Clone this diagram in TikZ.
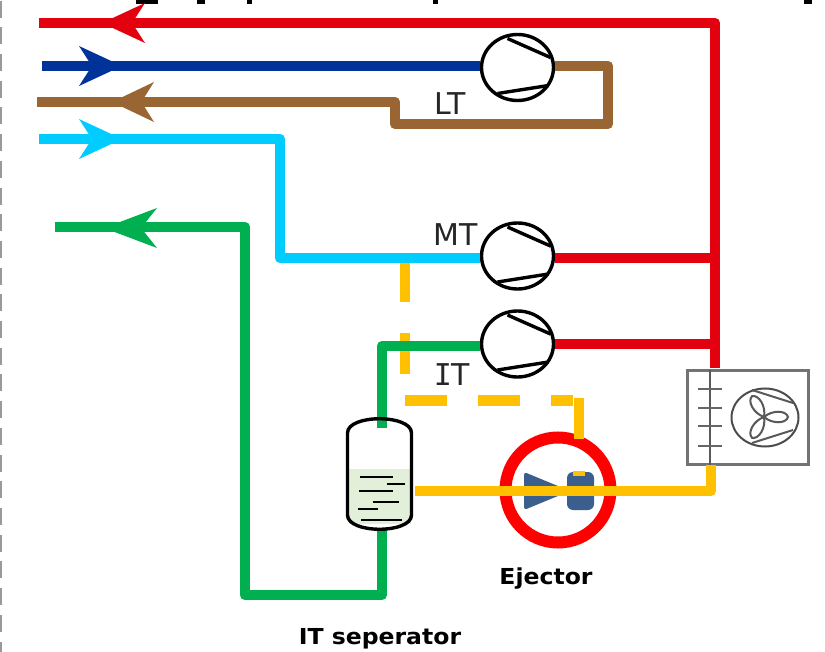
\documentclass[tikz,border=0pt]{standalone}
\usepackage{fontspec}
\setmainfont{DejaVu Sans}
\newfontfamily\serifletter{DejaVu Sans Mono}
\usetikzlibrary{positioning,shapes.geometric}
\definecolor{redline}{HTML}{E3000F}
\definecolor{blueline}{HTML}{003399}
\definecolor{brownline}{HTML}{996633}
\definecolor{cyanline}{HTML}{00CCFF}
\definecolor{greenline}{HTML}{00B050}
\definecolor{yellowline}{HTML}{FFC000}
\definecolor{ejectorblue}{HTML}{3A5F8F}
\definecolor{liquid}{HTML}{E2EFD9}
\tikzset{
  pipe/.style={line width=10.5pt, line join=round},
  comp/.style={ellipse, draw, line width=3.4pt, minimum width=72pt, minimum height=66pt, inner sep=0pt, fill=white},
  tag/.style={font=\fontsize{30}{30}\selectfont, text=black!85, inner sep=0pt},
  boldtag/.style={font=\fontsize{22}{22}\bfseries\selectfont, inner sep=0pt, xscale=1.07},
  fin/.style={line width=2pt, black!60},
}
\newcommand{\flowhead}[5]{% tip x, y, direction, length, colour
  \fill[#5] (#1,#2) -- ++(#3*-#4,-20) -- ++(#3*0.3*#4,20) -- ++(#3*-0.3*#4,20) -- cycle;
}
\newcommand{\compmarks}[1]{% compressor valve lines
  \draw[line width=3.4pt] ([shift={(-10,-29)}]#1.center) -- ([shift={(33,-10)}]#1.center);
  \draw[line width=3.4pt] ([shift={(-20,26)}]#1.center) -- ([shift={(31,18)}]#1.center);
}
\begin{document}
\begin{tikzpicture}[x=1pt, y=-1pt]
  \useasboundingbox (0,0) rectangle (825,652);
  % page edge
  \draw[black!40, line width=2pt, dash pattern=on 17pt off 9.7pt] (1,0.7) -- (1,652);
  % cut off title
  \foreach \xa/\xb in {136/158, 197/205, 247/252, 433/438, 804/812}
    \fill (\xa,0) rectangle (\xb,4);

  % compressors
  \node[comp] (lt) at (517.5,67.5) {};
  \node[comp] (mt) at (517.5,256) {};
  \node[comp] (it) at (517.5,344) {};

  % condenser and free ends
  \node[draw, black!55, line width=2.2pt, minimum width=121pt, minimum height=94pt, inner sep=0pt] (cond) at (748,417.5) {};
  \coordinate (topin) at (39,23);
  \coordinate (topcorner) at (715,23);
  \coordinate (condtop) at (715,368);
  \coordinate (bluein) at (42,66);
  \coordinate (brownout) at (37,102);
  \coordinate (cyanin) at (39,139);
  \coordinate (greenout) at (55,227);

  % lines
  \draw[pipe, redline] (topin) -- (topcorner) -- (condtop);
  \draw[pipe, redline] ([yshift=-2pt]mt.east) -- (715,258);
  \draw[pipe, redline] (it.east) -- (715,344);
  \draw[pipe, blueline] (bluein) -- (lt.west |- bluein);
  \draw[pipe, brownline] (lt.east |- bluein) -- (608,66) -- (608,124) -- (395,124) -- (395,102) -- (brownout);
  \draw[pipe, yellowline, dash pattern=on 41pt off 31pt] (405,261) -- (405,374);
  \draw[pipe, cyanline] (cyanin) -- (280,139) -- (280,258) -- ([yshift=-2pt]mt.west);
  \draw[pipe, greenline] ([yshift=-2pt]it.west) -- (382,346) -- (382,428);
  \draw[pipe, greenline] (382,530) -- (382,595) -- (245,595) -- (245,227) -- (greenout);

  % flow arrows
  \flowhead{102}{23}{-1}{43}{redline}
  \flowhead{122}{66}{1}{43}{blueline}
  \flowhead{112}{102}{-1}{42}{brownline}
  \flowhead{122}{139}{1}{43}{cyanline}
  \flowhead{104}{228}{-1}{53}{greenline}

  \compmarks{lt}
  \compmarks{mt}
  \compmarks{it}

  % IT separator
  \fill[liquid] (349,469) rectangle (411,524);
  \draw[line width=3.4pt] (347.5,433) .. controls (347.5,414) and (411.5,414) .. (411.5,433) -- (411.5,515)
    .. controls (411.5,534) and (347.5,534) .. (347.5,515) -- cycle;
  \foreach \xa/\xb/\ya in {360/393/477, 387/405/484, 359/393/491, 373/399/502, 358/378/509, 361/402/520}
    \draw[line width=1.8pt] (\xa,\ya) -- (\xb,\ya);

  % ejector
  \node[circle, draw=red, line width=12pt, minimum size=105pt, inner sep=0pt] (ej) at (558,490) {};
  \fill[ejectorblue, rounded corners=3pt] (524,472) -- (570,491) -- (524,510) -- cycle;
  \fill[ejectorblue, rounded corners=6pt] (567,472) rectangle (594,510);
  \fill[yellowline] (573,471) rectangle (585,476);
  \draw[pipe, yellowline, dash pattern=on 42pt off 31pt] (405,400.5) -- (573,400.5);
  \draw[pipe, yellowline] (579,398) -- (579,439);
  \draw[pipe, yellowline] (415,491) -- (711,491) -- (711,465);

  % condenser details
  \draw[line width=2.4pt, black!65] (710,370) -- (710,465);
  \foreach \ya in {389,408,426,446}
    \draw[fin] (698,\ya) -- (722,\ya);
  \node[ellipse, draw, black!70, line width=2pt, minimum width=67pt, minimum height=58pt, inner sep=0pt] (fan) at (765,417.5) {};
  \foreach \ang in {0,120,240}
    \draw[black!65, line width=2pt, rotate around={\ang:(764,417)}] (764,417) .. controls (772,410) and (786,410) .. (788,417) .. controls (786,424) and (772,424) .. (764,417);
  \draw[black!65, line width=2pt] (752,390) -- (793,403);
  \draw[black!65, line width=2pt] (752,443) -- (793,430);

  % labels
  \node[tag] (ltlabel) at (450,104) {LT};
  \node[tag] (mtlabel) at (456,235) {MT};
  \node[tag] (itlabel) at (452,375) {{\serifletter I}T};
  \node[boldtag] (ejlabel) at (546,579) {Ejector};
  \node[boldtag] (seplabel) at (380,639) {IT seperator};
\end{tikzpicture}
\end{document}
